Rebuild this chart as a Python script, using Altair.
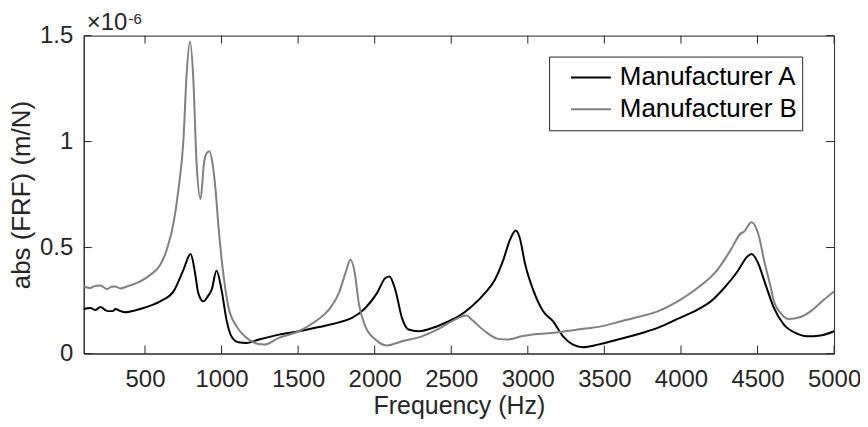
import altair as alt
import pandas as pd

# Series (values in units of 1e-6 m/N)
freq_a = [100, 145, 175, 209, 240, 263, 290, 306, 340, 371, 404, 490, 599, 686, 751, 798, 827, 848,
          881, 913, 935, 967, 1000, 1032, 1065, 1109, 1163, 1245, 1375, 1505, 1636, 1766, 1852, 1939,
          2015, 2070, 2096, 2135, 2178, 2221, 2286, 2395, 2482, 2547, 2633, 2720, 2785, 2840, 2883,
          2922, 2948, 2981, 3035, 3100, 3165, 3230, 3295, 3360, 3458, 3588, 3718, 3848, 3978, 4108,
          4195, 4282, 4369, 4434, 4462, 4499, 4553, 4607, 4672, 4748, 4824, 4911, 5000]
val_a = [0.210, 0.215, 0.205, 0.220, 0.205, 0.200, 0.200, 0.210, 0.200, 0.195, 0.198, 0.215, 0.246,
         0.293, 0.395, 0.470, 0.380, 0.285, 0.246, 0.273, 0.300, 0.390, 0.300, 0.160, 0.080, 0.053,
         0.050, 0.066, 0.089, 0.105, 0.125, 0.147, 0.168, 0.215, 0.285, 0.356, 0.363, 0.300, 0.168,
         0.113, 0.105, 0.125, 0.152, 0.175, 0.222, 0.285, 0.348, 0.442, 0.536, 0.580, 0.544, 0.426,
         0.300, 0.199, 0.152, 0.081, 0.042, 0.030, 0.042, 0.066, 0.091, 0.121, 0.163, 0.207, 0.246,
         0.309, 0.387, 0.458, 0.469, 0.434, 0.324, 0.215, 0.136, 0.097, 0.081, 0.085, 0.105]

freq_b = [100, 143, 170, 209, 252, 280, 306, 339, 382, 469, 534, 599, 642, 686, 718, 751, 772, 794,
          816, 837, 863, 885, 902, 920, 941, 961, 978, 1011, 1044, 1098, 1163, 1228, 1278, 1375, 1505,
          1614, 1701, 1766, 1809, 1842, 1870, 1896, 1939, 2005, 2080, 2178, 2308, 2417, 2503, 2600,
          2633, 2720, 2807, 2872, 2959, 3067, 3197, 3327, 3479, 3609, 3718, 3848, 3978, 4108, 4238,
          4325, 4391, 4412, 4460, 4510, 4542, 4585, 4607, 4651, 4705, 4781, 4846, 4933, 5000]
val_b = [0.316, 0.309, 0.318, 0.321, 0.304, 0.315, 0.316, 0.307, 0.316, 0.340, 0.371, 0.418, 0.489,
         0.614, 0.771, 1.006, 1.320, 1.472, 1.288, 0.897, 0.729, 0.897, 0.944, 0.954, 0.897, 0.771,
         0.614, 0.379, 0.222, 0.128, 0.074, 0.047, 0.042, 0.074, 0.105, 0.152, 0.207, 0.285, 0.379,
         0.442, 0.379, 0.238, 0.128, 0.066, 0.038, 0.058, 0.081, 0.116, 0.152, 0.179, 0.160, 0.105,
         0.069, 0.066, 0.081, 0.092, 0.100, 0.113, 0.128, 0.152, 0.172, 0.199, 0.246, 0.309, 0.395,
         0.489, 0.567, 0.575, 0.619, 0.551, 0.442, 0.316, 0.246, 0.191, 0.163, 0.172, 0.199, 0.254,
         0.293]

series_names = ["Manufacturer A", "Manufacturer B"]
series_colors = ["#000000", "#808080"]
x_ticks = [500, 1000, 1500, 2000, 2500, 3000, 3500, 4000, 4500, 5000]
y_ticks = [0, 0.5, 1, 1.5]

W, H = 753, 319
FONT = "Liberation Sans"
TXT = "#262626"

df = pd.concat([
    pd.DataFrame({"f": freq_a, "v": val_a, "s": series_names[0]}),
    pd.DataFrame({"f": freq_b, "v": val_b, "s": series_names[1]}),
])

xscale = alt.Scale(domain=[100, 5000], nice=False, zero=False)
yscale = alt.Scale(domain=[0, 1.5], nice=False, zero=True)
xaxis = alt.Axis(values=x_ticks, format="d", title="Frequency (Hz)", tickSize=0, labelPadding=14,
                 labelFlush=False, labelOverlap=False, titleY=60, titleBaseline="alphabetic",
                 titleFontSize=25)
yaxis = alt.Axis(values=y_ticks, format="~g", title="abs (FRF) (m/N)", tickSize=0, labelPadding=11,
                 labelFlush=False, labelOverlap=False, titleX=-62, titleY=H / 2,
                 titleBaseline="middle")

lines = alt.Chart(df).mark_line(strokeWidth=2, interpolate="monotone").encode(
    x=alt.X("f:Q", scale=xscale, axis=xaxis),
    y=alt.Y("v:Q", scale=yscale, axis=yaxis),
    color=alt.Color("s:N", scale=alt.Scale(domain=series_names, range=series_colors),
                    legend=alt.Legend(title=None, orient="none", legendX=467, legendY=21)),
)

xt = pd.DataFrame({"f": x_ticks})
yt = pd.DataFrame({"v": y_ticks})
tick_style = dict(color=TXT, strokeWidth=1)
bottom_ticks = alt.Chart(xt).mark_rule(**tick_style).encode(
    x=alt.X("f:Q", scale=xscale, axis=xaxis), y=alt.value(H), y2=alt.value(H - 8))
top_ticks = alt.Chart(xt).mark_rule(**tick_style).encode(
    x=alt.X("f:Q", scale=xscale, axis=xaxis), y=alt.value(0), y2=alt.value(8))
left_ticks = alt.Chart(yt).mark_rule(**tick_style).encode(
    y=alt.Y("v:Q", scale=yscale, axis=yaxis), x=alt.value(0), x2=alt.value(8))
right_ticks = alt.Chart(yt).mark_rule(**tick_style).encode(
    y=alt.Y("v:Q", scale=yscale, axis=yaxis), x=alt.value(W), x2=alt.value(W - 8))

exp_base = alt.Chart(pd.DataFrame({"t": ["×10"]})).mark_text(
    font=FONT, fontSize=24, color=TXT, align="left", baseline="alphabetic").encode(
    text="t:N", x=alt.value(3), y=alt.value(-6))
exp_sup = alt.Chart(pd.DataFrame({"t": ["-6"]})).mark_text(
    font=FONT, fontSize=15, color=TXT, align="left", baseline="alphabetic").encode(
    text="t:N", x=alt.value(45), y=alt.value(-12))

chart = alt.layer(lines, bottom_ticks, top_ticks, left_ticks, right_ticks, exp_base, exp_sup).properties(
    width=W, height=H,
    autosize=alt.AutoSizeParams(type="none"),
    padding={"left": 76, "top": 27, "right": 26, "bottom": 65},
).configure_view(stroke=TXT, strokeWidth=1).configure_axis(
    labelFont=FONT, titleFont=FONT, labelFontSize=24, titleFontSize=26,
    labelColor=TXT, titleColor=TXT, titleFontWeight="normal",
    domainColor=TXT, domainWidth=1, grid=False,
).configure_legend(
    strokeColor=TXT, fillColor="white", padding=5, symbolType="stroke", symbolSize=1600,
    symbolStrokeWidth=2, labelFont=FONT, labelFontSize=26, labelColor="#000000",
    labelOffset=8, symbolOffset=16, rowPadding=0, clipHeight=32, labelLimit=400,
)

chart.save("out.html", embed_options={"renderer": "svg", "actions": False})
